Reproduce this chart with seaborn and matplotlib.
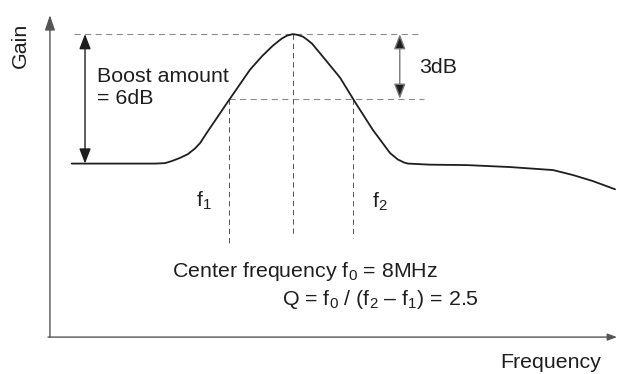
import matplotlib
matplotlib.use("Agg")
import matplotlib.pyplot as plt
import seaborn as sns
import pandas as pd

# gain curve of the booster (freq in MHz, gain in dB)
freq = [2.33, 4.08, 4.46, 4.72, 4.90, 5.10, 5.31, 5.49, 5.62, 5.79, 6.33, 6.90,
        7.21, 7.49, 7.60, 7.72, 7.85, 8.00, 8.13, 8.26, 8.38, 8.49, 8.77, 9.21,
        9.59, 10.05, 10.49, 10.69, 10.85, 10.95, 11.51, 12.46, 13.56, 14.67,
        15.18, 15.69, 16.26]
gain = [0.0, 0.0, 0.0, 0.02, 0.12, 0.26, 0.44, 0.70, 0.95, 1.42, 2.86, 4.35,
        4.98, 5.47, 5.63, 5.80, 5.93, 6.0, 5.96, 5.88, 5.72, 5.56, 4.95, 3.98,
        2.86, 1.56, 0.49, 0.19, 0.05, 0.0, -0.05, -0.07, -0.16, -0.30,
        -0.53, -0.81, -1.19]

f0 = 8.0
f1 = 6.35
f2 = 9.55
boost = 6.0
drop = 3.0

df = pd.DataFrame({"freq": freq, "gain": gain})

sns.set_theme(style="white")
plt.rcParams["font.family"] = ["Liberation Sans", "DejaVu Sans"]
plt.rcParams["mathtext.fontset"] = "custom"
plt.rcParams["mathtext.rm"] = "Liberation Sans"
plt.rcParams["mathtext.it"] = "Liberation Sans:italic"

ink = "#1e1e1e"
grey = "#8a8a8a"
fs = 15.4

fig = plt.figure(figsize=(6.17, 3.74), dpi=100)
ax = fig.add_axes([0, 0, 1, 1])
ax.set_xlim(0.49, 16.31)
ax.set_ylim(-9.75, 7.58)
ax.axis("off")

# axes drawn as arrows
x0, y0 = 1.77, -8.04
ax.annotate("", xy=(x0, 6.88), xytext=(x0, y0),
            arrowprops=dict(arrowstyle="-|>,head_length=0.65,head_width=0.22",
                            color="#555555", lw=1.0, shrinkA=0, shrinkB=0,
                            mutation_scale=14))
ax.annotate("", xy=(16.31, y0), xytext=(x0 - 0.05, y0),
            arrowprops=dict(arrowstyle="-|>,head_length=0.4,head_width=0.15",
                            color="#555555", lw=1.0, shrinkA=0, shrinkB=0,
                            mutation_scale=14))

# guide lines
dash = (0, (5.5, 4))
ax.plot([2.38, 11.26], [boost, boost], color=grey, lw=0.8, ls=dash)
ax.plot([f1, 11.36], [boost - drop, boost - drop], color=grey, lw=0.8, ls=dash)
ax.plot([f1, f1], [boost - drop, -3.82], color="#555555", lw=0.7, ls=dash)
ax.plot([f0, f0], [boost, -3.27], color="#555555", lw=0.7, ls=dash)
ax.plot([f2, f2], [boost - drop, -3.45], color="#555555", lw=0.7, ls=dash)

sns.lineplot(data=df, x="freq", y="gain", ax=ax, color=ink, lw=1.3,
             sort=False, estimator=None)

# boost and 3dB arrows
ax.annotate("", xy=(2.67, boost), xytext=(2.67, 0),
            arrowprops=dict(arrowstyle="<|-|>,head_length=0.65,head_width=0.25",
                            color=ink, lw=1.0, shrinkA=0, shrinkB=0,
                            mutation_scale=14))
ax.annotate("", xy=(10.74, boost), xytext=(10.74, boost - drop),
            arrowprops=dict(arrowstyle="<|-|>,head_length=0.65,head_width=0.25",
                            ec="#777777", fc=ink, lw=1.0, shrinkA=0, shrinkB=0,
                            mutation_scale=14))

ax.text(2.97, 3.52, "Boost amount\n= 6dB", ha="left", va="center",
        fontsize=fs, color=ink, linespacing=1.15)
ax.text(11.23, 4.43, "3dB", ha="left", va="center", fontsize=fs, color=ink)
ax.text(5.51, -1.74, "f$_1$", ha="left", va="center", fontsize=fs, color=ink)
ax.text(10.03, -1.78, "f$_2$", ha="left", va="center", fontsize=fs, color=ink)
ax.text(4.90, -5.26, "Center frequency f$_0$ = 8MHz", ha="left",
        va="baseline", fontsize=fs, color=ink)
ax.text(7.72, -6.56, "Q = f$_0$ / (f$_2$ \u2013 f$_1$) = 2.5", ha="left",
        va="baseline", fontsize=fs, color=ink)
ax.text(1.0, 5.49, "Gain", rotation=90, ha="center", va="center",
        fontsize=fs, color=ink)
ax.text(14.62, -9.24, "Frequency", ha="center", va="center",
        fontsize=fs, color=ink)

fig.savefig("out.png", dpi=100)
